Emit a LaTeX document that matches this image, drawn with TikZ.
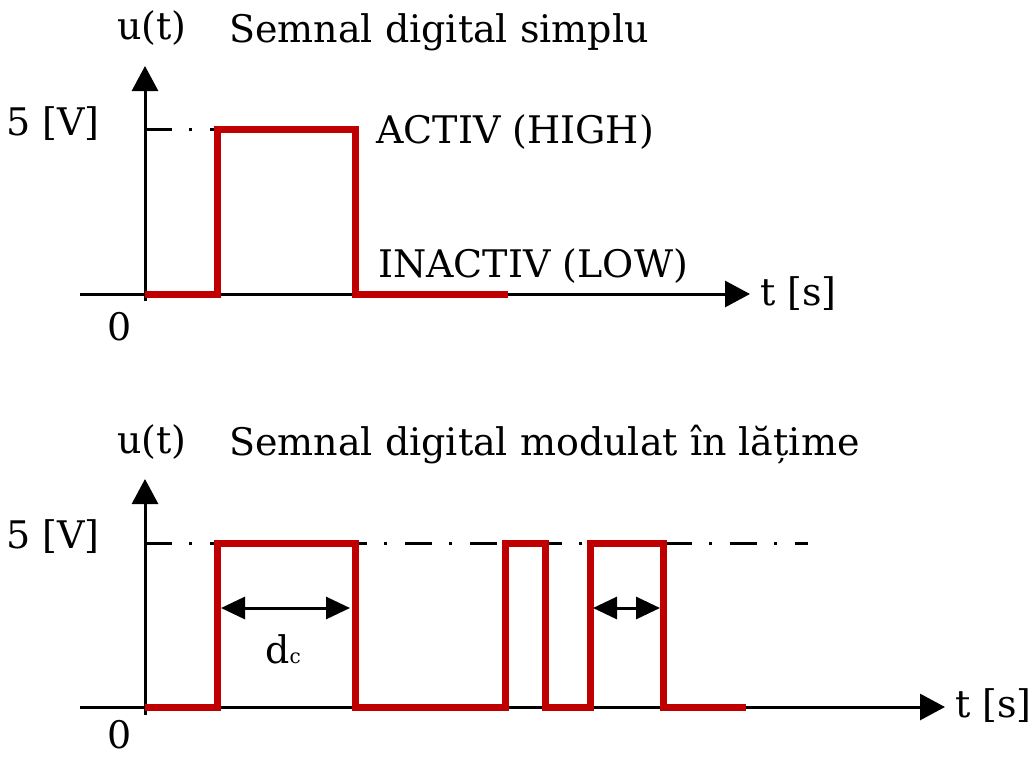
\documentclass[tikz,border=0pt]{standalone}
\usepackage{fontspec}
\setmainfont{DejaVu Serif}
\usetikzlibrary{arrows.meta}
\definecolor{sigred}{HTML}{C00000}
\begin{document}
\begin{tikzpicture}[x=1pt,y=-1pt,
  lbl/.style={inner sep=0pt,font=\fontsize{38}{46}\selectfont},
  axis/.style={line width=3pt,-{Triangle[length=25pt,width=26pt]}},
  sig/.style={line width=7pt,sigred,line join=miter},
  level/.style={line width=3pt,dash pattern=on 27pt off 17pt on 3pt off 18pt},
  span/.style={line width=3pt,{Triangle[length=24pt,width=22pt]}-{Triangle[length=24pt,width=22pt]}}]
\useasboundingbox (0,0) rectangle (1031,760);
% ---------- top plot ----------
\coordinate (yb1) at (145,301);
\coordinate (yt1) at (145,66);
\coordinate (xl1) at (80,294);
\coordinate (xr1) at (750,294);
\draw[axis] (yb1) -- (yt1);
\draw[axis] (xl1) -- (xr1);
\coordinate (h1s) at (145,129);
\coordinate (h1e) at (217,129);
\draw[level] (h1s) -- (h1e);
\draw[sig] (145,294) -- (217,294) -- (217,129) -- (355,129) -- (355,294) -- (508,294);
\node[lbl,anchor=base] (u1) at (152,40) {u(t)};
\node[lbl,anchor=base west] (title1) at (229,43) {Semnal digital simplu};
\node[lbl,anchor=base east] (v1) at (100,135) {5 [V]};
\node[lbl,anchor=base] (z1) at (120,340) {0};
\node[lbl,anchor=base west] (act) at (376,143) {ACTIV (HIGH)};
\node[lbl,anchor=base west] (inact) at (378,277) {INACTIV (LOW)};
\node[lbl,anchor=base west] (t1) at (760,305) {t [s]};
% ---------- bottom plot ----------
\coordinate (yb2) at (145,715);
\coordinate (yt2) at (145,479);
\coordinate (xl2) at (80,707);
\coordinate (xr2) at (945,707);
\draw[axis] (yb2) -- (yt2);
\draw[axis] (xl2) -- (xr2);
\coordinate (h2s) at (145,543);
\coordinate (h2e) at (808,543);
\draw[level] (h2s) -- (h2e);
\draw[sig] (145,707) -- (217,707) -- (217,543) -- (355,543) -- (355,707) -- (505,707)
  -- (505,543) -- (545,543) -- (545,707) -- (590,707) -- (590,543) -- (663,543)
  -- (663,707) -- (746,707);
\coordinate (a1) at (221,608);
\coordinate (a2) at (350,608);
\draw[span] (a1) -- (a2);
\coordinate (b1) at (593,608);
\coordinate (b2) at (660,608);
\draw[span] (b1) -- (b2);
\node[lbl,anchor=base west] (dc) at (265,663) {d\fontsize{20}{24}\selectfont c};
\node[lbl,anchor=base] (u2) at (152,453) {u(t)};
\node[lbl,anchor=base west] (title2) at (229,455) {Semnal digital modulat în lățime};
\node[lbl,anchor=base east] (v2) at (100,548) {5 [V]};
\node[lbl,anchor=base] (z2) at (120,748) {0};
\node[lbl,anchor=base west] (t2) at (955,717) {t [s]};
\end{tikzpicture}
\end{document}
